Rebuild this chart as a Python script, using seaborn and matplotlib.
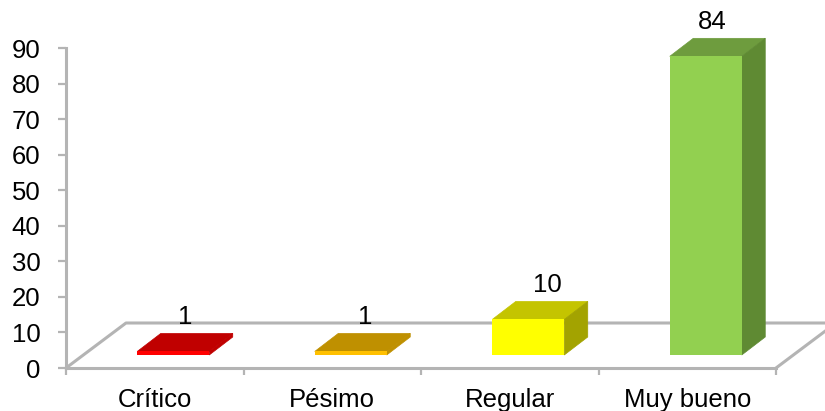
import matplotlib
matplotlib.use('Agg')
import matplotlib.pyplot as plt
import pandas as pd
import seaborn as sns
from matplotlib.patches import Polygon

categories = ['Crítico', 'Pésimo', 'Regular', 'Muy bueno']
values = [1, 1, 10, 84]
front_colors = ['#ff0000', '#ffc000', '#ffff00', '#92d050']
top_colors = ['#c00000', '#bf9000', '#c4c400', '#6e9c3e']
side_colors = ['#c00000', '#bf9000', '#a3a300', '#5f8a33']
y_ticks = [0, 10, 20, 30, 40, 50, 60, 70, 80, 90]

# fake 3d, everything in data units
px_x = 710 / 4
px_y = 320 / 90
lift = 13 / px_y
shift = 18.5 / px_x
bar_w = 72 / px_x
depth_x = 23.5 / px_x
depth_y = 18 / px_y
floor_x = 60 / px_x
floor_y = 45 / px_y
grey = '#b4b4b4'
font_size = 18.5

sns.set_style('white')
plt.rcParams['font.family'] = ['Liberation Sans', 'DejaVu Sans']

df = pd.DataFrame({'cat': categories, 'val': values})

fig = plt.figure(figsize=(8.25, 4.11), dpi=100)
ax = fig.add_axes([66 / 825, 43 / 411, 710 / 825, 320 / 411])
sns.barplot(data=df, x='cat', y='val', hue='cat', palette=front_colors, legend=False,
            width=bar_w, bottom=lift, saturation=1, zorder=3.5, linewidth=0, ax=ax)
ax.set_xlim(-0.5 - shift, 3.5 - shift)
ax.set_ylim(0, 90)

# floor
x0, x1 = ax.get_xlim()
ax.plot([x0, x0 + floor_x, x1 + floor_x, x1], [0, floor_y, floor_y, 0],
        color=grey, lw=2.2, clip_on=False, zorder=1)

# small nudges so the numbers sit where the original puts them
label_nudge = [0, 3, 7, -5]
for i, v in enumerate(values):
    l = i - bar_w / 2
    r = i + bar_w / 2
    b = lift
    t = lift + v
    ax.add_patch(Polygon([(l, t), (r, t), (r + depth_x, t + depth_y), (l + depth_x, t + depth_y)],
                         fc=top_colors[i], ec=top_colors[i], lw=0.5, clip_on=False, zorder=3))
    ax.add_patch(Polygon([(r, b), (r + depth_x, b + depth_y), (r + depth_x, t + depth_y), (r, t)],
                         fc=side_colors[i], ec=side_colors[i], lw=0.5, clip_on=False, zorder=3))
    ax.annotate(str(v), (i + depth_x / 2, t + depth_y), xytext=(label_nudge[i], 9),
                textcoords='offset pixels', ha='center', va='baseline', annotation_clip=False,
                fontsize=font_size, color='black', zorder=4)

ax.set_xlabel('')
ax.set_ylabel('')
ax.set_yticks(y_ticks)
ax.set_xticks([i - shift for i in range(4)])
ax.set_xticklabels(categories)
ax.set_xticks([i - shift - 0.5 for i in range(5)], minor=True)
ax.tick_params(axis='x', which='major', length=0, pad=14.5, labelsize=font_size, colors='black')
ax.tick_params(axis='x', which='minor', bottom=True, length=5, width=1.6, color=grey)
ax.tick_params(axis='y', left=True, length=5.5, width=1.6, color=grey, pad=13, labelsize=font_size, labelcolor='black')
for s in ['top', 'right']:
    ax.spines[s].set_visible(False)
for s in ['left', 'bottom']:
    ax.spines[s].set_color(grey)
    ax.spines[s].set_linewidth(2.2)

fig.savefig('out.png', dpi=100)
